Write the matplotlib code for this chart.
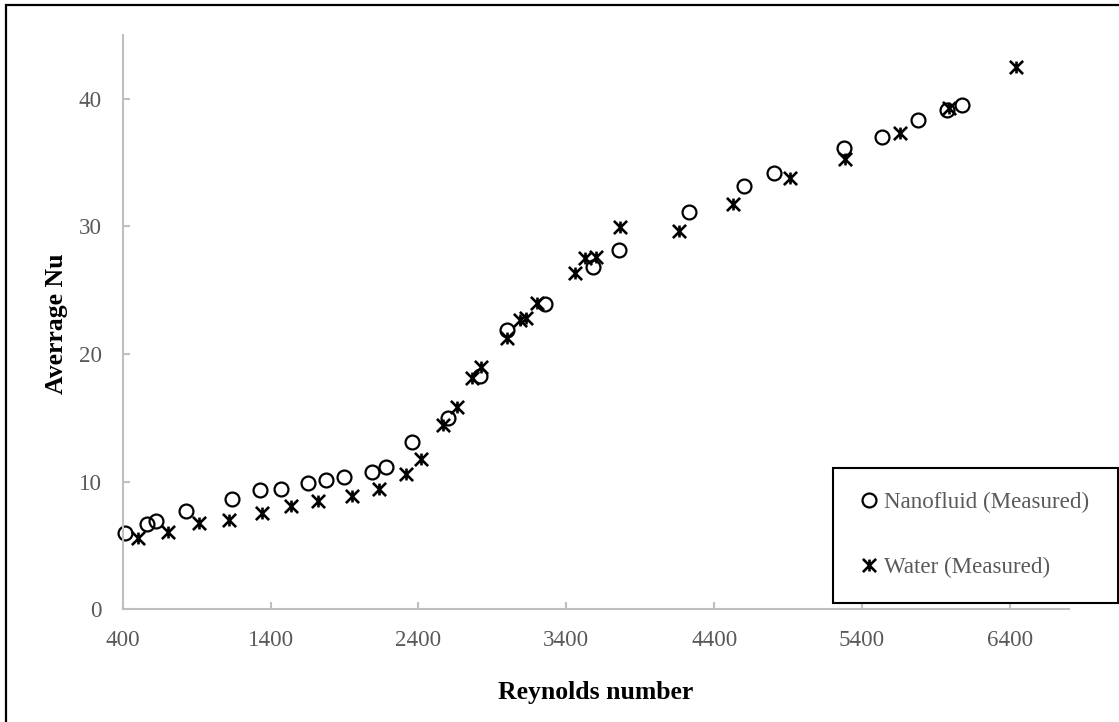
import matplotlib.pyplot as plt
import numpy as np
from matplotlib.path import Path
from matplotlib.patches import Rectangle

# Reynolds number / average Nu
nano_re = [415, 562, 623, 826, 1137, 1326, 1472, 1651, 1775, 1895, 2084, 2179,
           2359, 2602, 2817, 2997, 3257, 3579, 3754, 4231, 4605, 4806, 5275,
           5535, 5782, 5974, 6076]
nano_nu = [5.96, 6.68, 6.94, 7.73, 8.67, 9.37, 9.43, 9.87, 10.13, 10.37, 10.78,
           11.18, 13.09, 14.97, 18.31, 21.89, 23.93, 26.85, 28.16, 31.11, 33.17,
           34.22, 36.15, 37.04, 38.35, 39.13, 39.52]

water_re = [501, 708, 916, 1119, 1344, 1538, 1721, 1949, 2133, 2316, 2418, 2568,
            2663, 2765, 2826, 2997, 3087, 3128, 3204, 3460, 3524, 3602, 3764,
            4163, 4527, 4914, 5283, 5658, 5985, 6441]
water_nu = [5.56, 6.08, 6.74, 7.00, 7.57, 8.10, 8.49, 8.90, 9.43, 10.60, 11.78,
            14.44, 15.83, 18.15, 19.01, 21.24, 22.67, 22.81, 23.98, 26.33, 27.55,
            27.61, 29.94, 29.65, 31.76, 33.78, 35.25, 37.30, 39.26, 42.48]

x_ticks = [400, 1400, 2400, 3400, 4400, 5400, 6400]
y_ticks = [0, 10, 20, 30, 40]

plt.rcParams['font.family'] = ['Liberation Serif', 'DejaVu Serif']

# excel style star: an X with a vertical bar
star = Path([(-1, -1), (1, 1), (-1, 1), (1, -1), (0, -0.9), (0, 0.9)],
            [Path.MOVETO, Path.LINETO, Path.MOVETO, Path.LINETO, Path.MOVETO, Path.LINETO])

W, H = 1119, 722
fig = plt.figure(figsize=(W / 100, H / 100), dpi=100)
ax = fig.add_axes([122.8 / W, 1 - 609.3 / H, (1069 - 122.8) / W, (609.3 - 35) / H])

ax.plot(nano_re, nano_nu, linestyle='none', marker='o', markersize=10,
        markerfacecolor='none', markeredgecolor='black', markeredgewidth=1.6,
        label='Nanofluid (Measured)', clip_on=False)
ax.plot(water_re, water_nu, linestyle='none', marker=star, markersize=9.5,
        markeredgecolor='black', markeredgewidth=1.9,
        label='Water (Measured)', clip_on=False)

ax.set_xlim(400, 6800)
ax.set_ylim(0, 45)
ax.set_xticks(x_ticks)
ax.set_yticks(y_ticks)

grey = '#bfbfbf'
for s in ['top', 'right']:
    ax.spines[s].set_visible(False)
for s in ['left', 'bottom']:
    ax.spines[s].set_color(grey)
    ax.spines[s].set_linewidth(1.5)
ax.tick_params(direction='in', length=5, width=1.5, color=grey,
               labelcolor='#595959', labelsize=16.6, pad=15)

ax.set_xlabel('Reynolds number', fontsize=18.5, fontweight='bold')
ax.set_ylabel('Averrage Nu', fontsize=18.5, fontweight='bold')
ax.xaxis.set_label_coords((596 - 122.8) / 946.2, (609.3 - 681) / 574.3)
ax.yaxis.set_label_coords((68 - 122.8) / 946.2, (609.3 - 323.5) / 574.3)

leg = ax.legend(loc='upper left',
                bbox_to_anchor=(833 / W, 1 - 603 / H, (1117.5 - 833) / W, (603 - 468) / H),
                bbox_transform=fig.transFigure, mode='expand',
                fontsize=16.6, labelcolor='#595959', fancybox=False,
                edgecolor='black', framealpha=1, borderpad=1.05,
                labelspacing=1.9, handlelength=1.0, handletextpad=0.15,
                borderaxespad=0)
leg.get_frame().set_linewidth(1.5)
leg.set_zorder(5)

# outer chart border (cropped at right and bottom)
fig.add_artist(Rectangle((6 / W, -0.1), 1.2, 1.1 - 5 / H, transform=fig.transFigure,
                         fill=False, edgecolor='black', linewidth=1.6))

fig.savefig('out.png', dpi=100)
